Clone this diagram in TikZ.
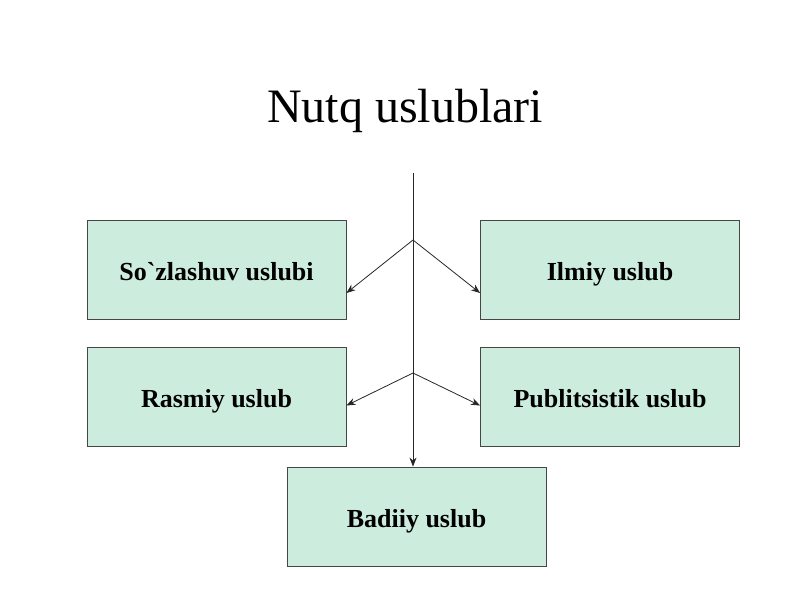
\documentclass[tikz,border=0pt]{standalone}
\usepackage{fontspec}
\setmainfont{Liberation Serif}[Ligatures=TeXOff]
\usetikzlibrary{arrows.meta}
\definecolor{boxfill}{RGB}{204,236,222}
\definecolor{boxline}{RGB}{70,70,70}
\tikzset{
  stylebox/.style={draw=boxline, line width=0.9pt, fill=boxfill, minimum width=259pt, minimum height=99pt, inner sep=0pt, text height=26pt, text depth=4pt, font=\fontsize{26}{30}\selectfont\bfseries},
  conn/.style={draw=black!85, line width=0.8pt},
  arr/.style={conn, -{Stealth[length=9pt,width=7pt]}}
}
\begin{document}
\begin{tikzpicture}[x=1pt,y=-1pt]
\useasboundingbox (0,0) rectangle (800,600);
\node[font=\fontsize{48}{56}\selectfont, anchor=base] (title) at (405,122) {Nutq uslublari};
\node[stylebox] (s1) at (216.5,269.5) {So`zlashuv uslubi};
\node[stylebox] (s2) at (610,269.5) {Ilmiy uslub};
\node[stylebox] (s3) at (216.5,396.5) {Rasmiy uslub};
\node[stylebox] (s4) at (610,396.5) {Publitsistik uslub};
\node[stylebox] (s5) at (416.5,516.5) {Badiiy uslub};
\coordinate (top) at (413,173);
\coordinate (b1) at (413,240);
\coordinate (b2) at (413,373);
\draw[arr] (top) -- (s5.north -| top);
\draw[arr] (b1) -- ([yshift=-23.5pt]s1.east);
\draw[arr] (b1) -- ([yshift=-23.5pt]s2.west);
\draw[arr] (b2) -- ([yshift=-9pt]s3.east);
\draw[arr] (b2) -- ([yshift=-9pt]s4.west);
\end{tikzpicture}
\end{document}
